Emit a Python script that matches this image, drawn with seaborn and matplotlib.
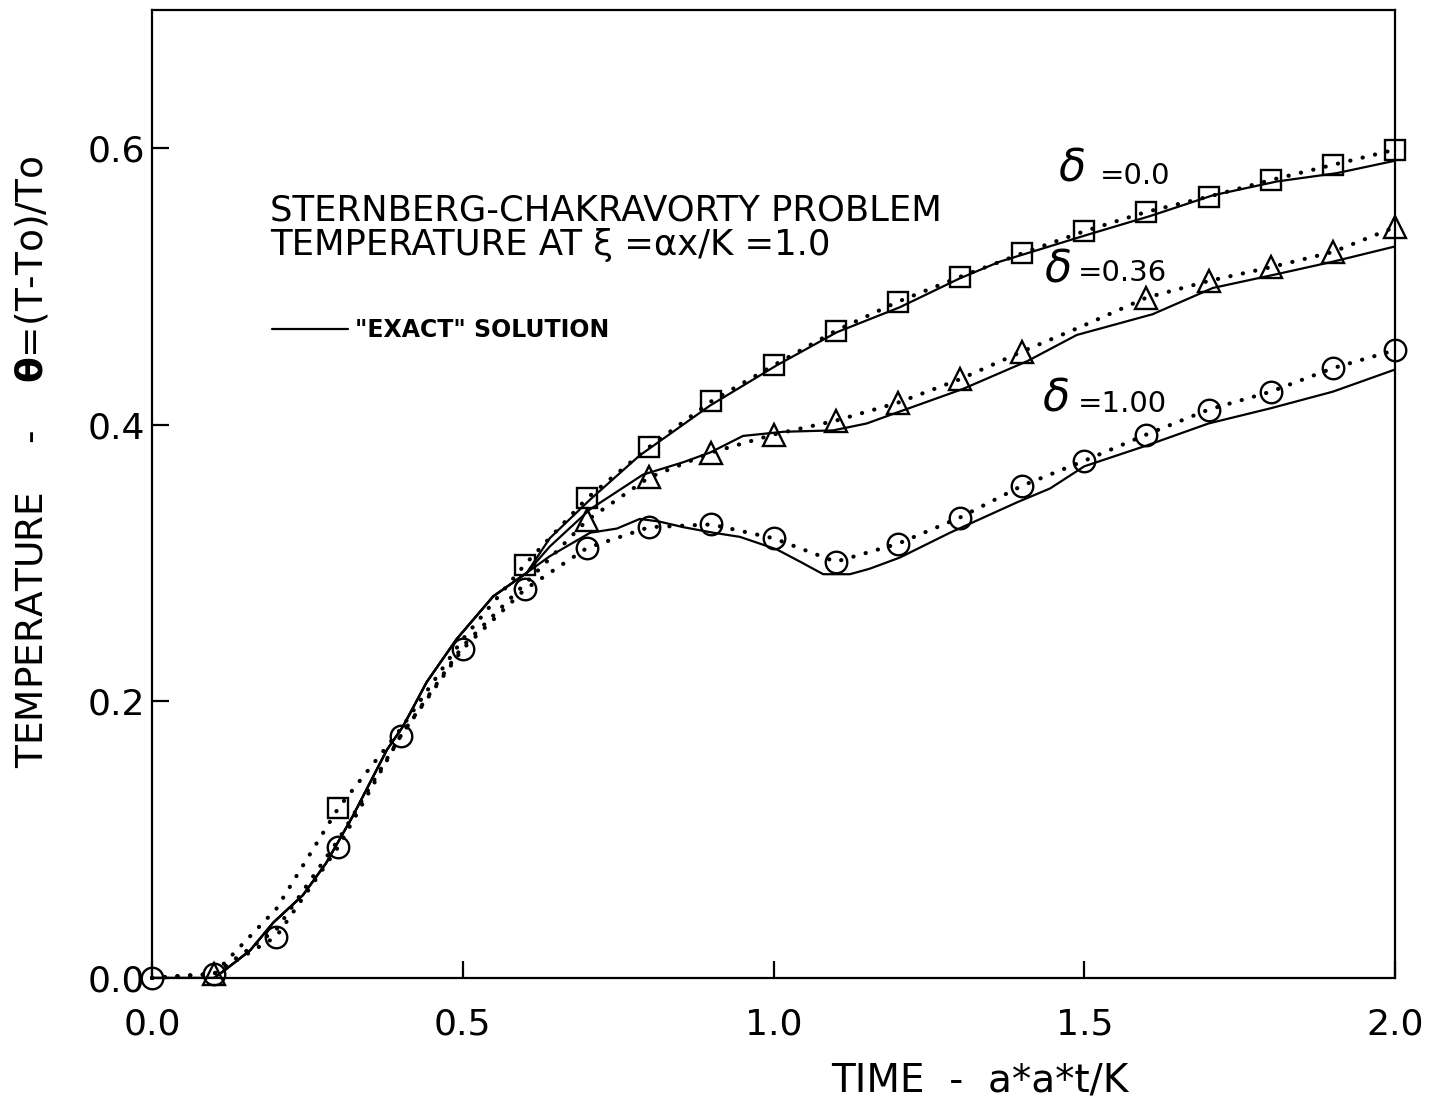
import numpy as np
import pandas as pd
import matplotlib
matplotlib.use("Agg")
import matplotlib.pyplot as plt
import seaborn as sns

# ---------------- data ----------------
# numerical solutions at t = 0.0 ... 2.0 (step 0.1)
t_num = [0.0, 0.1, 0.2, 0.3, 0.4, 0.5, 0.6, 0.7, 0.8, 0.9, 1.0,
         1.1, 1.2, 1.3, 1.4, 1.5, 1.6, 1.7, 1.8, 1.9, 2.0]
num_d000 = [0.0, 0.003, 0.050, 0.123, 0.180, 0.245, 0.299, 0.347, 0.384, 0.417, 0.443,
            0.468, 0.489, 0.507, 0.524, 0.540, 0.554, 0.565, 0.577, 0.588, 0.599]
num_d036 = [0.0, 0.003, 0.035, 0.100, 0.175, 0.240, 0.285, 0.331, 0.362, 0.380, 0.393,
            0.403, 0.416, 0.433, 0.453, 0.472, 0.492, 0.504, 0.514, 0.525, 0.543]
num_d100 = [0.0, 0.003, 0.030, 0.095, 0.175, 0.238, 0.281, 0.311, 0.326, 0.328, 0.318,
            0.301, 0.314, 0.333, 0.356, 0.374, 0.393, 0.411, 0.424, 0.441, 0.454]
# indices of plotted symbols (others hidden in the original plot)
shown_d000 = [3, 6, 7, 8, 9, 10, 11, 12, 13, 14, 15, 16, 17, 18, 19, 20]
shown_d036 = [1, 7, 8, 9, 10, 11, 12, 13, 14, 16, 17, 18, 19, 20]
shown_d100 = list(range(21))

# "exact" solutions: common early part
t_common = [0.0, 0.1, 0.118, 0.158, 0.195, 0.243, 0.28, 0.323, 0.378, 0.404, 0.442, 0.49, 0.549, 0.603]
y_common = [0.0, 0.0, 0.006, 0.020, 0.040, 0.060, 0.083, 0.117, 0.165, 0.182, 0.214, 0.245, 0.276, 0.293]
# tails
t_ex_d000 = [0.64, 0.705, 0.785, 0.898, 1.005, 1.102, 1.203, 1.30, 1.364, 1.509, 1.606, 1.707, 1.81, 1.906, 2.0]
y_ex_d000 = [0.318, 0.346, 0.378, 0.414, 0.443, 0.467, 0.485, 0.506, 0.518, 0.538, 0.551, 0.566, 0.576, 0.582, 0.591]
t_ex_d036 = [0.64, 0.705, 0.79, 0.855, 0.898, 0.951, 1.016, 1.096, 1.15, 1.193, 1.305, 1.408, 1.488,
             1.61, 1.707, 1.81, 1.90, 2.0]
y_ex_d036 = [0.312, 0.339, 0.364, 0.373, 0.380, 0.392, 0.395, 0.396, 0.401, 0.408, 0.426, 0.446, 0.465,
             0.480, 0.499, 0.509, 0.518, 0.529]
t_ex_d100 = [0.64, 0.705, 0.748, 0.785, 0.817, 0.855, 0.903, 0.946, 1.005, 1.043, 1.08, 1.123, 1.155,
             1.203, 1.284, 1.392, 1.445, 1.5, 1.6, 1.7, 1.8, 1.9, 2.0]
y_ex_d100 = [0.305, 0.322, 0.325, 0.332, 0.330, 0.326, 0.322, 0.319, 0.310, 0.301, 0.292, 0.292, 0.296,
             0.304, 0.322, 0.344, 0.354, 0.370, 0.385, 0.401, 0.412, 0.424, 0.440]

x_ticks = [0.0, 0.5, 1.0, 1.5, 2.0]
x_ticklabels = ["0.0", "0.5", "1.0", "1.5", "2.0"]
y_ticks = [0.0, 0.2, 0.4, 0.6]
y_ticklabels = ["0.0", "0.2", "0.4", "0.6"]

title_lines = ["STERNBERG-CHAKRAVORTY PROBLEM", "TEMPERATURE AT \u03be =\u03b1x/K =1.0"]
legend_label = '"EXACT" SOLUTION'
delta_labels = ["=0.0", "=0.36", "=1.00"]
xlabel = "TIME  -  a*a*t/K"
ylabel = "TEMPERATURE    -    $\\mathbf{\\theta}$=(T-To)/To"

# ---------------- plot ----------------
sns.set_style("ticks")
plt.rcParams["font.family"] = ["DejaVu Sans"]
plt.rcParams["mathtext.fontset"] = "dejavusans"
plt.rcParams["text.color"] = "black"
plt.rcParams["axes.labelcolor"] = "black"

fig = plt.figure(figsize=(14.29, 10.98), dpi=100)
ax = fig.add_axes([152 / 1429, 120 / 1098, 1243 / 1429, 968 / 1098])

exact_sets = [(t_ex_d000, y_ex_d000), (t_ex_d036, y_ex_d036), (t_ex_d100, y_ex_d100)]
for tt, yy in exact_sets:
    df = pd.DataFrame({"t": t_common + tt, "y": y_common + yy})
    sns.lineplot(data=df, x="t", y="y", ax=ax, color="black", linewidth=1.6,
                 estimator=None, sort=False, zorder=3)

dot_style = (0, (0.05, 3.0))
num_sets = [(num_d000, "s", 14, shown_d000), (num_d036, "^", 16.5, shown_d036), (num_d100, "o", 15.5, shown_d100)]
for yy, mk, ms, shown in num_sets:
    df = pd.DataFrame({"t": t_num, "y": yy})
    sns.lineplot(data=df, x="t", y="y", ax=ax, color="black", linewidth=3.0,
                 linestyle=dot_style, dash_capstyle="round",
                 marker=mk, markersize=ms, markevery=shown,
                 markerfacecolor="none", markeredgecolor="black", markeredgewidth=1.7,
                 estimator=None, sort=False, clip_on=False, zorder=4)

exact_handle = ax.get_lines()[0]

ax.set_xlim(0, 2.0)
ax.set_ylim(0, 0.7)
ax.set_xticks(x_ticks)
ax.set_xticklabels(x_ticklabels)
ax.set_yticks(y_ticks)
ax.set_yticklabels(y_ticklabels)
ax.tick_params(direction="in", length=12, width=1.6, labelsize=26, colors="black")
ax.tick_params(axis="x", pad=21)
ax.tick_params(axis="y", pad=5)
for sp in ax.spines.values():
    sp.set_visible(True)
    sp.set_linewidth(1.6)
    sp.set_color("black")

ax.set_xlabel(xlabel, fontsize=28, color="black")
ax.xaxis.set_label_coords((980 - 152) / 1243, -0.086)
ax.set_ylabel(ylabel, fontsize=27, color="black")
ax.yaxis.set_label_coords(-0.082, 0.533)

# annotation text
ax.text(0.19, 0.555, title_lines[0], fontsize=25.5, va="center", ha="left", color="black")
ax.text(0.19, 0.530, title_lines[1], fontsize=25.5, va="center", ha="left", color="black")

leg = ax.legend(handles=[exact_handle], labels=[legend_label], loc="center left",
                bbox_to_anchor=((272 - 152) / 1243, (978 - 330) / 968), frameon=False,
                borderpad=0, borderaxespad=0, handlelength=3.2, handletextpad=0.3,
                prop={"size": 17, "weight": "bold"})
for txt in leg.get_texts():
    txt.set_color("black")

delta_pos = [(1.48, 0.585, 1.525, 0.580), (1.458, 0.512, 1.49, 0.510), (1.455, 0.419, 1.49, 0.415)]
for (dx, dy, tx, ty), lab in zip(delta_pos, delta_labels):
    ax.text(dx, dy, "\u03b4", fontsize=32, style="italic", ha="center", va="center", color="black")
    ax.text(tx, ty, lab, fontsize=21, ha="left", va="center", color="black")

fig.savefig("out.png", dpi=100, facecolor="white")
